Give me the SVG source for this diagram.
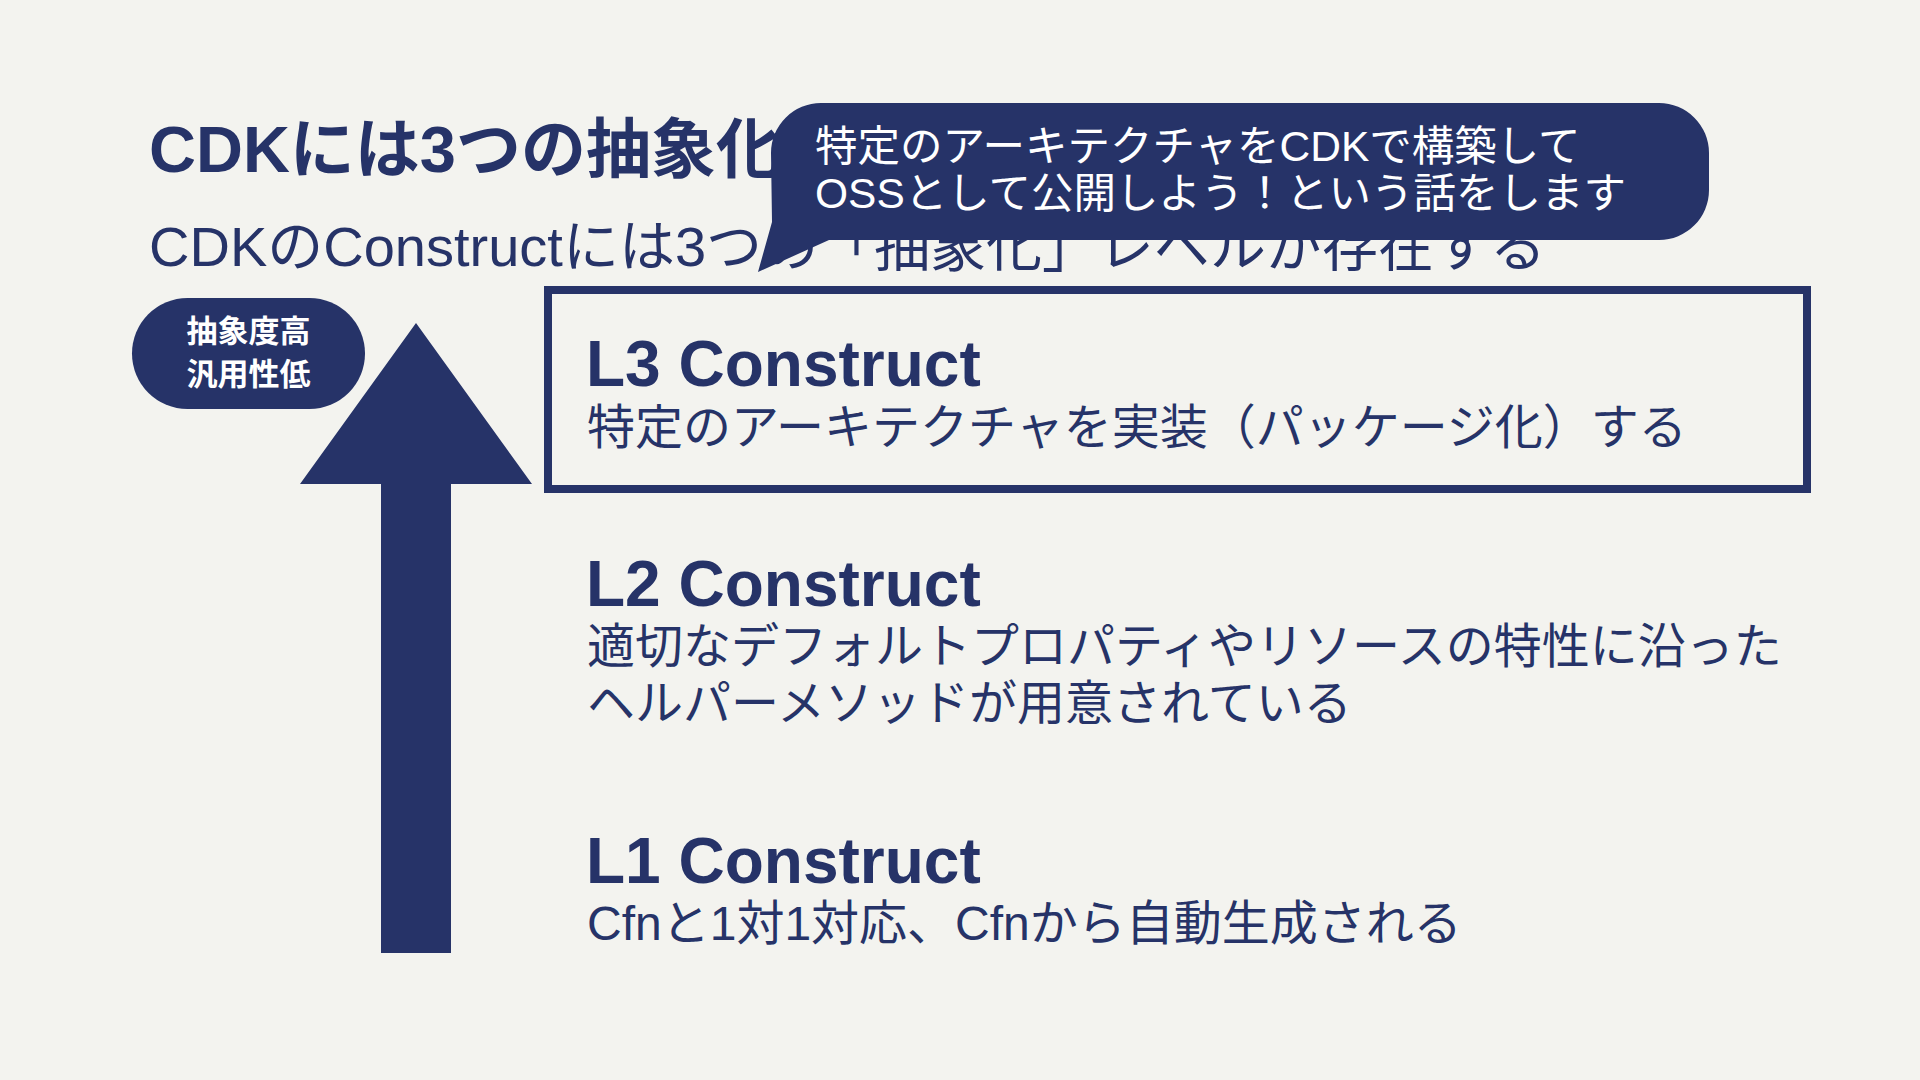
<svg xmlns="http://www.w3.org/2000/svg" width="1920" height="1080" viewBox="0 0 1920 1080">
  <style>
    .f { font-family: "Liberation Sans", "Noto Sans CJK JP", sans-serif; }
    .navy { fill: #263368; }
    .title { font-size: 65px; font-weight: bold; }
    .sub { font-size: 56px; }
    .head { font-size: 64px; font-weight: bold; }
    .desc { font-size: 48px; }
    .bub { font-size: 42.5px; fill: #ffffff; }
    .pill { font-size: 31px; font-weight: bold; fill: #ffffff; }
  </style>
  <rect x="0" y="0" width="1920" height="1080" fill="#F3F3EF"/>

  <g id="title">
    <text class="f title navy" x="149" y="172">CDKには3つの抽象化</text>
  </g>
  <g id="subtitle">
    <text class="f sub navy" x="149" y="266">CDKのConstructには3つの「抽象化」レベルが存在する</text>
  </g>

  <g id="connectors">
    <polygon class="navy" points="416,323 532,484 451,484 451,953 381,953 381,484 300,484"/>
  </g>

  <g id="pill-abstraction">
    <rect class="navy" x="132" y="298" width="233" height="111" rx="55.5" ry="55.5"/>
    <text class="f pill" x="248.5" y="342" text-anchor="middle">抽象度高</text>
    <text class="f pill" x="248.5" y="385" text-anchor="middle">汎用性低</text>
  </g>

  <g id="node-l3">
    <rect x="548" y="290" width="1259" height="199" fill="none" stroke="#263368" stroke-width="8"/>
    <text class="f head navy" x="586" y="386">L3 Construct</text>
    <text class="f desc navy" x="587" y="444">特定のアーキテクチャを実装（パッケージ化）する</text>
  </g>

  <g id="node-l2">
    <text class="f head navy" x="586" y="606">L2 Construct</text>
    <text class="f desc navy" x="587" y="663">適切なデフォルトプロパティやリソースの特性に沿った</text>
    <text class="f desc navy" x="587" y="720">ヘルパーメソッドが用意されている</text>
  </g>

  <g id="node-l1">
    <text class="f head navy" x="586" y="883">L1 Construct</text>
    <text class="f desc navy" x="587" y="940">Cfnと1対1対応、Cfnから自動生成される</text>
  </g>

  <g id="bubble">
    <path class="navy" d="M 821 103 H 1659 A 50 50 0 0 1 1709 153 V 190 A 50 50 0 0 1 1659 240 H 829 L 758 272 L 772 222 L 771 153 A 50 50 0 0 1 821 103 Z"/>
    <text class="f bub" x="815" y="161">特定のアーキテクチャをCDKで構築して</text>
    <text class="f bub" x="815" y="208">OSSとして公開しよう！という話をします</text>
  </g>
</svg>
